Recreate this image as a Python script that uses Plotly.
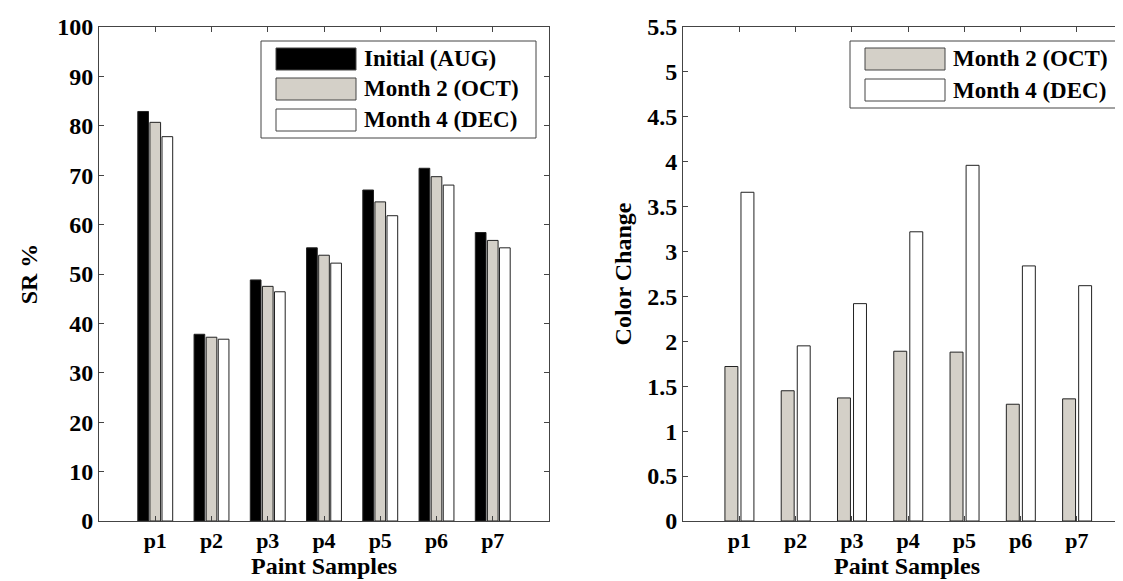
import plotly.graph_objects as go

# data
samples = ["p1", "p2", "p3", "p4", "p5", "p6", "p7"]
sr_initial = [82.9, 37.8, 48.8, 55.3, 67.0, 71.4, 58.4]
sr_month2 = [80.7, 37.2, 47.5, 53.8, 64.6, 69.7, 56.8]
sr_month4 = [77.8, 36.8, 46.4, 52.2, 61.8, 68.0, 55.3]
cc_month2 = [1.72, 1.45, 1.37, 1.89, 1.88, 1.30, 1.36]
cc_month4 = [3.66, 1.95, 2.42, 3.22, 3.96, 2.84, 2.62]
names = ["Initial (AUG)", "Month 2 (OCT)", "Month 4 (DEC)"]

W, H = 1123, 581
ML, MR, MT, MB = 91, 0, 19, 68
PW, PH = W - ML - MR, H - MT - MB

def px_x(x):
    return (x - ML) / PW

def px_y(y):
    return (H - MB - y) / PH

FONT = "Liberation Serif, Times New Roman, serif"
EDGE = "#222222"
AXC = "#444444"
colors = ["#000000", "#d4d0c8", "#ffffff"]

fig = go.Figure()

# left chart
for vals, c, off, nm in zip([sr_initial, sr_month2, sr_month4], colors,
                            [-0.31, -0.095, 0.12], names):
    fig.add_trace(go.Bar(x=samples, y=vals, name=nm, marker_color=c,
                         marker_line=dict(color=EDGE, width=1),
                         width=0.19, offset=off, xaxis="x", yaxis="y",
                         showlegend=False))

# right chart
for vals, c, off, nm in zip([cc_month2, cc_month4], colors[1:],
                            [-0.255, 0.03], names[1:]):
    fig.add_trace(go.Bar(x=samples, y=vals, name=nm, marker_color=c,
                         marker_line=dict(color=EDGE, width=1),
                         width=0.23, offset=off, xaxis="x2", yaxis="y2",
                         showlegend=False))

xtick_font = dict(family=FONT, size=22, color="black", weight="bold")
ytick_font = dict(family=FONT, size=24, color="black", weight="bold")
leg_font = dict(family=FONT, size=23, color="black", weight="bold")
title_font = dict(family=FONT, size=24, color="black", weight="bold")

ax_common = dict(showline=True, linecolor=AXC, linewidth=1, ticks="inside",
                 ticklen=5, tickcolor=AXC, showgrid=False, zeroline=False)

fig.update_layout(
    width=W, height=H,
    margin=dict(l=ML, r=MR, t=MT, b=MB),
    plot_bgcolor="white", paper_bgcolor="white",
    barmode="overlay",
    xaxis=dict(domain=[0, px_x(541)], range=[-1, 7], mirror="ticks",
               categoryorder="array", categoryarray=samples,
               tickfont=xtick_font,
               title=dict(text="Paint Samples", font=title_font, standoff=4),
               **ax_common),
    yaxis=dict(domain=[0, 1], range=[0, 100], dtick=10, mirror="ticks",
               tickfont=ytick_font,
               title=dict(text="SR %", font=title_font, standoff=12),
               **ax_common),
    xaxis2=dict(domain=[px_x(675), 1], range=[-1, 6.96], mirror="ticks",
                anchor="y2", categoryorder="array", categoryarray=samples,
                tickfont=xtick_font,
                title=dict(text="Paint Samples", font=title_font, standoff=4),
                **ax_common),
    yaxis2=dict(domain=[0, 1], range=[0, 5.5], dtick=0.5, anchor="x2",
                tickfont=ytick_font,
                title=dict(text="Color Change", font=title_font, standoff=8),
                **ax_common),
)

# legend boxes drawn by hand (MATLAB-style wide swatches)
shapes = []
annotations = []

def legend(box, rows, labels, fills):
    x0, y0, x1, y1 = box
    shapes.append(dict(type="rect", xref="paper", yref="paper",
                       x0=px_x(x0), x1=px_x(x1), y0=px_y(y0), y1=px_y(y1),
                       line=dict(color=AXC, width=1), fillcolor="white",
                       layer="above"))
    for (ry, lab, f) in zip(rows, labels, fills):
        shapes.append(dict(type="rect", xref="paper", yref="paper",
                           x0=px_x(x0 + 15), x1=px_x(x0 + 95),
                           y0=px_y(ry - 11), y1=px_y(ry + 11),
                           line=dict(color=AXC, width=1), fillcolor=f,
                           layer="above"))
        annotations.append(dict(xref="paper", yref="paper", x=px_x(x0 + 101),
                                y=px_y(ry), text=lab, showarrow=False,
                                xanchor="left", yanchor="middle",
                                font=leg_font))

legend((253, 33, 528, 130), [51, 81, 112], names, colors)
legend((842, 33, 1113, 100), [51, 82], names[1:], colors[1:])

fig.update_layout(shapes=shapes, annotations=annotations)

fig.write_html("out.html")
